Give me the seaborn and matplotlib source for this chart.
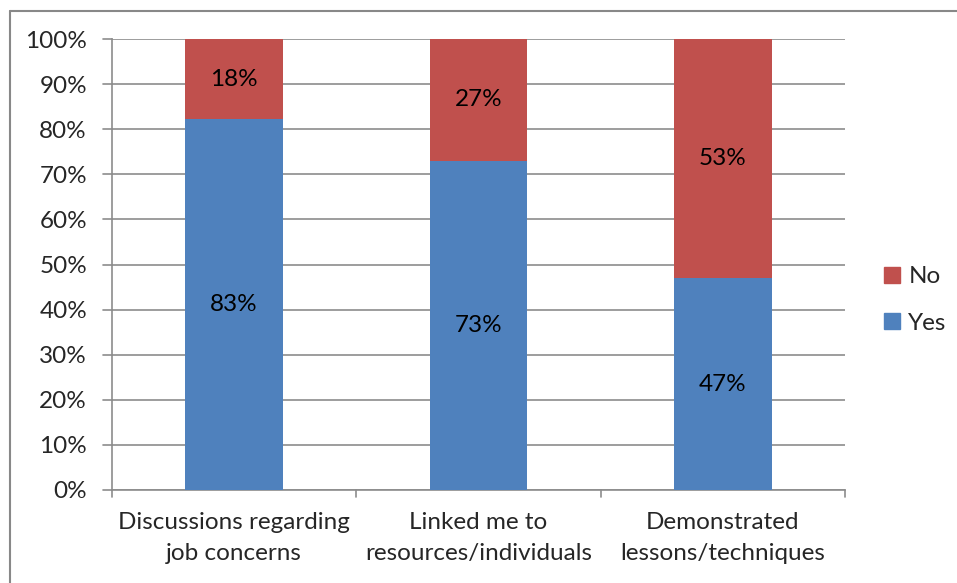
import matplotlib
matplotlib.use("Agg")
import matplotlib.pyplot as plt
import seaborn as sns
import pandas as pd
import numpy as np

categories = ["Discussions regarding\njob concerns",
              "Linked me to\nresources/individuals",
              "Demonstrated\nlessons/techniques"]
yes_values = [83, 73, 47]
no_values = [18, 27, 53]
series_names = ["No", "Yes"]
y_tick_labels = ["0%", "10%", "20%", "30%", "40%", "50%", "60%", "70%", "80%", "90%", "100%"]

BLUE = "#4F81BD"
RED = "#C0504D"
GRID = "#8C8C8C"

sns.set_theme(style="white")
plt.rcParams["font.family"] = ["Lato", "DejaVu Sans"]

df = pd.DataFrame({"category": categories, "Yes": yes_values, "No": no_values})
total = df["Yes"] + df["No"]
df["yes_share"] = df["Yes"] / total * 100
df["top"] = 100.0

W, H = 957, 583
fig = plt.figure(figsize=(W / 100, H / 100), dpi=100)
ax = fig.add_axes([112 / W, 1 - 490 / H, (845 - 112) / W, (490 - 39) / H])

# 100% stacked: full-height "No" bar underneath, "Yes" share drawn over it
sns.barplot(data=df, x="category", y="top", color=RED, width=0.4, saturation=1,
            ax=ax, zorder=3, edgecolor="none")
sns.barplot(data=df, x="category", y="yes_share", color=BLUE, width=0.4, saturation=1,
            ax=ax, zorder=4, edgecolor="none")

fs = 17.5
for i, row in df.iterrows():
    ax.text(i, row["yes_share"] / 2, f"{row['Yes']}%", ha="center", va="center",
            fontsize=fs, color="black", zorder=5)
    ax.text(i, row["yes_share"] + (100 - row["yes_share"]) / 2, f"{row['No']}%",
            ha="center", va="center", fontsize=fs, color="black", zorder=5)

ax.set_ylim(0, 100)
ax.set_xlim(-0.5, 2.5)
ax.set_yticks(np.arange(0, 101, 10))
ax.set_yticklabels(y_tick_labels, fontsize=fs)
ax.set_xticks(range(len(categories)))
ax.set_xticklabels(categories, fontsize=fs, linespacing=1.55)
ax.tick_params(axis="x", length=0, pad=16)
ax.tick_params(axis="y", length=0, pad=18)
ax.set_xlabel("")
ax.set_ylabel("")

ax.yaxis.grid(True, color=GRID, linewidth=1.2, zorder=0)
for s in ["top", "right"]:
    ax.spines[s].set_visible(False)
for s in ["left", "bottom"]:
    ax.spines[s].set_color(GRID)
    ax.spines[s].set_linewidth(1.2)

# Excel-style outer tick marks
for y in np.arange(0, 101, 10):
    ax.plot([-0.5 - 0.012 * 3, -0.5], [y, y], color=GRID, lw=1.2, clip_on=False, zorder=1)
for x in [-0.5, 0.5, 1.5, 2.5]:
    ax.plot([x, x], [0, -1.6], color=GRID, lw=1.2, clip_on=False, zorder=1)

# legend
handles = [plt.Rectangle((0, 0), 1, 1, color=RED), plt.Rectangle((0, 0), 1, 1, color=BLUE)]
fig.legend(handles, series_names, loc="center left", bbox_to_anchor=(884 / W, 1 - 300 / H),
           frameon=False, fontsize=fs, handlelength=0.65, handleheight=0.65,
           handletextpad=0.35, labelspacing=1.05, borderpad=0, borderaxespad=0)

# chart-area border
fig.add_artist(plt.Line2D([9.5 / W, 1], [1 - 10.5 / H] * 2, color="#888888", lw=1.5,
                          transform=fig.transFigure))
fig.add_artist(plt.Line2D([9.5 / W] * 2, [0, 1 - 10.5 / H], color="#888888", lw=1.5,
                          transform=fig.transFigure))

fig.savefig("out.png", dpi=100)
